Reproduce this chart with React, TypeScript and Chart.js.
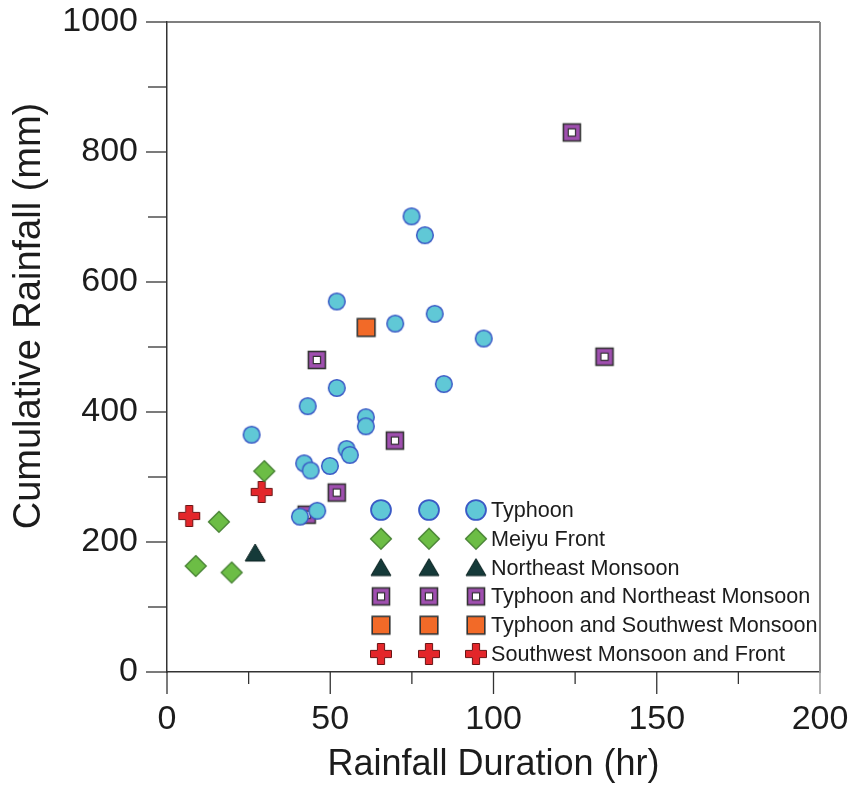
import React, { useEffect, useRef } from 'react';
import { Chart, registerables } from 'chart.js';

Chart.register(...registerables);

// ---------- data ----------
const typhoonX = [74.9, 79.0, 52.0, 69.9, 82.0, 97.0, 84.8, 52.0, 43.1, 60.9, 60.9, 25.9, 55.0, 56.0, 42.0, 44.0, 49.9, 46.0, 40.7];
const typhoonY = [701, 672, 570, 536, 551, 513, 443, 437, 409, 392, 378, 365, 343, 334, 321, 310, 317, 248, 239];

const meiyuX = [29.8, 15.9, 8.8, 19.8];
const meiyuY = [309, 231, 163, 153];

const neMonsoonX = [27.0];
const neMonsoonY = [183];

const tyNeX = [124.0, 134.0, 45.9, 69.8, 52.0, 42.8];
const tyNeY = [830, 485, 480, 356, 276, 242];

const tySwX = [61.0];
const tySwY = [530];

const swFrontX = [29.0, 6.8];
const swFrontY = [277, 240];

const seriesNames = [
  'Typhoon',
  'Meiyu Front',
  'Northeast Monsoon',
  'Typhoon and Northeast Monsoon',
  'Typhoon and Southwest Monsoon',
  'Southwest Monsoon and Front',
];

const xTicks = [0, 50, 100, 150, 200];
const yTicks = [0, 200, 400, 600, 800, 1000];
const xTitle = 'Rainfall Duration (hr)';
const yTitle = 'Cumulative Rainfall (mm)';

const FONT = '"Liberation Sans", Arial, Helvetica, sans-serif';
const TEXT = '#1c1c1c';

type MarkerKind = 'circle' | 'diamond' | 'triangle' | 'squareHollow' | 'square' | 'cross';
const kinds: MarkerKind[] = ['circle', 'diamond', 'triangle', 'squareHollow', 'square', 'cross'];

function makeMarker(kind: MarkerKind, scale = 1): HTMLCanvasElement {
  const size = Math.ceil(30 * scale);
  const cv = document.createElement('canvas');
  cv.width = size;
  cv.height = size;
  const ctx = cv.getContext('2d')!;
  const c = size / 2;
  ctx.translate(c, c);
  ctx.scale(scale, scale);
  ctx.lineJoin = 'miter';
  if (kind === 'circle') {
    ctx.beginPath();
    ctx.arc(0, 0, 8.3, 0, Math.PI * 2);
    ctx.fillStyle = '#60c8d6';
    ctx.fill();
    ctx.lineWidth = 1.5;
    ctx.strokeStyle = '#3a5ac6';
    ctx.stroke();
  } else if (kind === 'diamond') {
    const r = 10.5;
    ctx.beginPath();
    ctx.moveTo(0, -r);
    ctx.lineTo(r, 0);
    ctx.lineTo(0, r);
    ctx.lineTo(-r, 0);
    ctx.closePath();
    ctx.fillStyle = '#6cbd45';
    ctx.fill();
    ctx.lineWidth = 1.2;
    ctx.strokeStyle = '#3f7a2c';
    ctx.stroke();
  } else if (kind === 'triangle') {
    ctx.beginPath();
    ctx.moveTo(0, -9);
    ctx.lineTo(10, 8);
    ctx.lineTo(-10, 8);
    ctx.closePath();
    ctx.fillStyle = '#153a39';
    ctx.fill();
    ctx.lineWidth = 1;
    ctx.strokeStyle = '#0c2322';
    ctx.stroke();
  } else if (kind === 'squareHollow') {
    const h = 8.5;
    ctx.fillStyle = '#a04fb0';
    ctx.fillRect(-h, -h, 2 * h, 2 * h);
    ctx.lineWidth = 1.6;
    ctx.strokeStyle = '#333333';
    ctx.strokeRect(-h, -h, 2 * h, 2 * h);
    const i = 3.6;
    ctx.fillStyle = '#ffffff';
    ctx.fillRect(-i, -i, 2 * i, 2 * i);
    ctx.lineWidth = 1.2;
    ctx.strokeRect(-i, -i, 2 * i, 2 * i);
  } else if (kind === 'square') {
    const h = 8.8;
    ctx.fillStyle = '#f26a28';
    ctx.fillRect(-h, -h, 2 * h, 2 * h);
    ctx.lineWidth = 1.6;
    ctx.strokeStyle = '#333333';
    ctx.strokeRect(-h, -h, 2 * h, 2 * h);
  } else if (kind === 'cross') {
    const a = 10.5;
    const t = 3.6;
    ctx.beginPath();
    ctx.moveTo(-t, -a);
    ctx.lineTo(t, -a);
    ctx.lineTo(t, -t);
    ctx.lineTo(a, -t);
    ctx.lineTo(a, t);
    ctx.lineTo(t, t);
    ctx.lineTo(t, a);
    ctx.lineTo(-t, a);
    ctx.lineTo(-t, t);
    ctx.lineTo(-a, t);
    ctx.lineTo(-a, -t);
    ctx.lineTo(-t, -t);
    ctx.closePath();
    ctx.fillStyle = '#e3262a';
    ctx.fill();
    ctx.lineWidth = 1;
    ctx.strokeStyle = '#6a1414';
    ctx.stroke();
  }
  return cv;
}

function toPoints(xs: number[], ys: number[]) {
  return xs.map((x, i) => ({ x, y: ys[i] }));
}

export default function App() {
  const ref = useRef<HTMLCanvasElement | null>(null);

  useEffect(() => {
    if (!ref.current) return;
    const markers = kinds.map((k) => makeMarker(k));
    const legendMarkers = kinds.map((k) => makeMarker(k, k === 'circle' ? 1.2 : 1));
    const seriesX = [typhoonX, meiyuX, neMonsoonX, tyNeX, tySwX, swFrontX];
    const seriesY = [typhoonY, meiyuY, neMonsoonY, tyNeY, tySwY, swFrontY];

    const framePlugin = {
      id: 'frameAndTicks',
      afterDraw(chart: any) {
        const { ctx, chartArea } = chart;
        const xs = chart.scales.x;
        const ys = chart.scales.y;
        ctx.save();
        // top and right frame
        ctx.lineWidth = 1.5;
        ctx.strokeStyle = '#555555';
        ctx.beginPath();
        ctx.moveTo(chartArea.left, chartArea.top);
        ctx.lineTo(chartArea.right, chartArea.top);
        ctx.stroke();
        ctx.strokeStyle = '#8a8a8a';
        ctx.lineWidth = 2;
        ctx.beginPath();
        ctx.moveTo(chartArea.right, chartArea.top);
        ctx.lineTo(chartArea.right, chartArea.bottom);
        ctx.stroke();
        // x ticks
        ctx.lineWidth = 1.3;
        for (let v = 0; v <= 200; v += 25) {
          const px = xs.getPixelForValue(v);
          const len = v % 50 === 0 ? 22 : 12;
          ctx.strokeStyle = v === 200 ? '#8a8a8a' : '#333333';
          ctx.beginPath();
          ctx.moveTo(px, chartArea.bottom);
          ctx.lineTo(px, chartArea.bottom + len);
          ctx.stroke();
        }
        // y ticks
        ctx.strokeStyle = '#333333';
        for (let v = 0; v <= 1000; v += 100) {
          const py = ys.getPixelForValue(v);
          const len = v % 200 === 0 ? 21 : 19;
          ctx.beginPath();
          ctx.moveTo(chartArea.left, py);
          ctx.lineTo(chartArea.left - len, py);
          ctx.stroke();
        }
        // y axis title
        ctx.save();
        ctx.translate(30, chartArea.top + 294);
        ctx.rotate(-Math.PI / 2);
        ctx.font = `38px ${FONT}`;
        ctx.fillStyle = TEXT;
        ctx.textAlign = 'center';
        ctx.textBaseline = 'middle';
        ctx.fillText(yTitle, 0, 0);
        ctx.restore();
        // legend
        const lx = [214, 262, 309];
        const textX = 324;
        const rowY0 = chartArea.bottom - 162;
        const rowStep = 28.8;
        ctx.font = `21.6px ${FONT}`;
        ctx.fillStyle = TEXT;
        ctx.textBaseline = 'middle';
        ctx.textAlign = 'left';
        seriesNames.forEach((name, i) => {
          const y = rowY0 + i * rowStep;
          const m = legendMarkers[i];
          lx.forEach((dx) => {
            const x = chartArea.left + dx;
            ctx.drawImage(m, x - m.width / 2, y - m.height / 2);
          });
          ctx.fillText(name, chartArea.left + textX, y + 1);
        });
        ctx.restore();
      },
    };

    const chart = new Chart(ref.current, {
      type: 'scatter',
      data: {
        datasets: seriesNames.map((name, i) => ({
          label: name,
          data: toPoints(seriesX[i], seriesY[i]),
          pointStyle: markers[i] as any,
          pointRadius: 9,
          showLine: false,
        })),
      },
      options: {
        responsive: false,
        animation: false,
        devicePixelRatio: 1,
        layout: { padding: 0 },
        plugins: {
          legend: { display: false },
          tooltip: { enabled: false },
        },
        scales: {
          x: {
            type: 'linear',
            min: 0,
            max: 200,
            afterBuildTicks: (s: any) => {
              s.ticks = xTicks.map((v) => ({ value: v }));
            },
            afterFit: (s: any) => {
              s.height = 114;
              s.paddingRight = 31;
              s.paddingLeft = 0;
            },
            ticks: {
              font: { family: FONT, size: 34 },
              color: TEXT,
              padding: 5,
              maxRotation: 0,
              callback: (v: any) => String(v),
            },
            grid: {
              drawOnChartArea: false,
              drawTicks: true,
              tickLength: 22,
              tickColor: 'rgba(0,0,0,0)',
            },
            border: { display: true, color: '#333333', width: 1.5 },
            title: {
              display: true,
              text: xTitle,
              font: { family: FONT, size: 36 },
              color: TEXT,
              padding: { top: 0, bottom: -1 },
            },
          },
          y: {
            type: 'linear',
            min: 0,
            max: 1000,
            afterBuildTicks: (s: any) => {
              s.ticks = yTicks.map((v) => ({ value: v }));
            },
            afterFit: (s: any) => {
              s.width = 167;
              s.paddingTop = 22;
              s.paddingBottom = 0;
            },
            ticks: {
              font: { family: FONT, size: 34 },
              color: TEXT,
              padding: 8,
              callback: (v: any) => String(v),
            },
            grid: {
              drawOnChartArea: false,
              drawTicks: true,
              tickLength: 21,
              tickColor: 'rgba(0,0,0,0)',
            },
            border: { display: true, color: '#333333', width: 1.5 },
            title: { display: false },
          },
        },
      },
      plugins: [framePlugin],
    });
    return () => chart.destroy();
  }, []);

  return (
    <div style={{ position: 'fixed', left: 0, top: 0, width: 851, height: 786, background: '#ffffff' }}>
      <canvas ref={ref} width={851} height={786} style={{ display: 'block' }} />
    </div>
  );
}
